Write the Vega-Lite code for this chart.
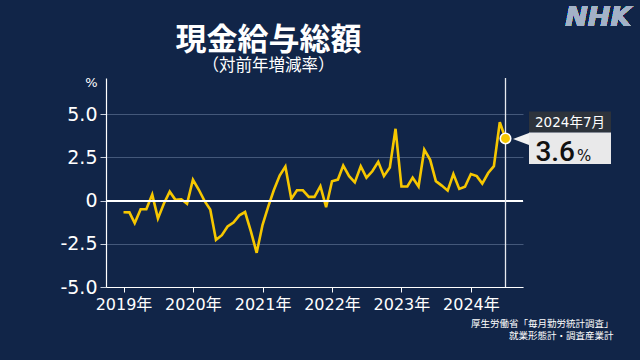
{
  "$schema": "https://vega.github.io/schema/vega-lite/v6.json",
  "width": 417,
  "height": 209,
  "autosize": "none",
  "padding": {"left": 106, "top": 78, "right": 117, "bottom": 73},
  "background": "#112548",
  "config": {
    "view": {"stroke": null},
    "font": "Noto Sans CJK JP"
  },
  "title": {
    "text": "現金給与総額",
    "subtitle": "（対前年増減率）",
    "anchor": "middle",
    "dx": -46,
    "offset": -72,
    "font": "Noto Sans CJK JP",
    "fontSize": 31,
    "fontWeight": "bold",
    "color": "white",
    "subtitleFont": "Noto Sans CJK JP",
    "subtitleFontSize": 16.5,
    "subtitleColor": "white",
    "subtitlePadding": 1
  },
  "data": {
    "values": [
      {"date": "2019-01-01", "value": -0.67},
      {"date": "2019-02-01", "value": -0.68},
      {"date": "2019-03-01", "value": -1.3},
      {"date": "2019-04-01", "value": -0.5},
      {"date": "2019-05-01", "value": -0.5},
      {"date": "2019-06-01", "value": 0.35},
      {"date": "2019-07-01", "value": -1.03},
      {"date": "2019-08-01", "value": -0.18},
      {"date": "2019-09-01", "value": 0.52},
      {"date": "2019-10-01", "value": 0.05},
      {"date": "2019-11-01", "value": 0.08},
      {"date": "2019-12-01", "value": -0.18},
      {"date": "2020-01-01", "value": 1.21},
      {"date": "2020-02-01", "value": 0.63},
      {"date": "2020-03-01", "value": 0.0},
      {"date": "2020-04-01", "value": -0.52},
      {"date": "2020-05-01", "value": -2.27},
      {"date": "2020-06-01", "value": -2.0},
      {"date": "2020-07-01", "value": -1.5},
      {"date": "2020-08-01", "value": -1.27},
      {"date": "2020-09-01", "value": -0.85},
      {"date": "2020-10-01", "value": -0.66},
      {"date": "2020-11-01", "value": -1.8},
      {"date": "2020-12-01", "value": -3.02},
      {"date": "2021-01-01", "value": -1.4},
      {"date": "2021-02-01", "value": -0.3},
      {"date": "2021-03-01", "value": 0.6},
      {"date": "2021-04-01", "value": 1.45},
      {"date": "2021-05-01", "value": 1.97},
      {"date": "2021-06-01", "value": 0.1},
      {"date": "2021-07-01", "value": 0.6},
      {"date": "2021-08-01", "value": 0.6},
      {"date": "2021-09-01", "value": 0.22},
      {"date": "2021-10-01", "value": 0.22},
      {"date": "2021-11-01", "value": 0.84},
      {"date": "2021-12-01", "value": -0.38},
      {"date": "2022-01-01", "value": 1.12},
      {"date": "2022-02-01", "value": 1.22},
      {"date": "2022-03-01", "value": 2.03},
      {"date": "2022-04-01", "value": 1.42},
      {"date": "2022-05-01", "value": 1.06},
      {"date": "2022-06-01", "value": 1.99},
      {"date": "2022-07-01", "value": 1.33},
      {"date": "2022-08-01", "value": 1.7},
      {"date": "2022-09-01", "value": 2.25},
      {"date": "2022-10-01", "value": 1.42},
      {"date": "2022-11-01", "value": 1.92},
      {"date": "2022-12-01", "value": 4.16},
      {"date": "2023-01-01", "value": 0.82},
      {"date": "2023-02-01", "value": 0.82},
      {"date": "2023-03-01", "value": 1.33},
      {"date": "2023-04-01", "value": 0.82},
      {"date": "2023-05-01", "value": 2.95},
      {"date": "2023-06-01", "value": 2.36},
      {"date": "2023-07-01", "value": 1.13},
      {"date": "2023-08-01", "value": 0.87},
      {"date": "2023-09-01", "value": 0.58},
      {"date": "2023-10-01", "value": 1.54},
      {"date": "2023-11-01", "value": 0.68},
      {"date": "2023-12-01", "value": 0.8},
      {"date": "2024-01-01", "value": 1.54},
      {"date": "2024-02-01", "value": 1.42},
      {"date": "2024-03-01", "value": 0.99},
      {"date": "2024-04-01", "value": 1.6},
      {"date": "2024-05-01", "value": 2.0},
      {"date": "2024-06-01", "value": 4.54},
      {"date": "2024-07-01", "value": 3.6}
    ]
  },
  "layer": [
    {
      "mark": {"type": "line", "color": "#f6c700", "strokeWidth": 2.6, "strokeJoin": "miter"},
      "encoding": {
        "x": {
          "field": "date",
          "type": "temporal",
          "scale": {"domain": [{"year": 2018, "month": 10, "date": 1}, {"year": 2024, "month": 10, "date": 1}]},
          "axis": {
            "format": "%Y年",
            "tickCount": {"interval": "year", "step": 1},
            "grid": false,
            "labelFont": "DejaVu Sans, Noto Sans CJK JP",
            "labelFontSize": 16,
            "labelColor": "white",
            "labelPadding": 4,
            "domainColor": "white",
            "domainWidth": 1.2,
            "tickColor": "white",
            "tickSize": 5,
            "title": ["厚生労働省「毎月勤労統計調査」", "就業形態計・調査産業計"],
            "titleFont": "Noto Sans CJK JP",
            "titleFontSize": 9.5,
            "titleFontWeight": "normal",
            "titleColor": "white",
            "titleAnchor": "end",
            "titleAlign": "right",
            "titleBaseline": "top",
            "titleLineHeight": 12,
            "titleX": 507,
            "titleY": 31
          }
        },
        "y": {
          "field": "value",
          "type": "quantitative",
          "scale": {"domain": [-5, 7.1], "nice": false, "zero": false},
          "axis": {
            "values": [-5, -2.5, 0, 2.5, 5],
            "labelExpr": "datum.value === 0 ? '0' : (datum.value < 0 ? '-' : '') + format(abs(datum.value), '.1f')",
            "labelFont": "DejaVu Sans",
            "labelFontSize": 19,
            "labelColor": "white",
            "labelPadding": 3,
            "domainColor": "white",
            "domainWidth": 1.2,
            "tickColor": "#c8cfdc",
            "tickSize": 6,
            "grid": true,
            "gridColor": "#44587a",
            "gridWidth": 1,
            "title": "%",
            "titleAngle": 0,
            "titleX": -15,
            "titleY": 4,
            "titleAlign": "center",
            "titleBaseline": "middle",
            "titleFont": "DejaVu Sans",
            "titleFontSize": 13,
            "titleFontWeight": "normal",
            "titleColor": "white"
          }
        }
      }
    },
    {
      "mark": {"type": "rule", "color": "white", "strokeWidth": 1.5},
      "encoding": {"y": {"datum": 0}}
    },
    {
      "mark": {"type": "text", "font": "DejaVu Sans", "fontSize": 27, "fontWeight": "bold", "fontStyle": "italic", "color": "#a3b2c7", "align": "center", "baseline": "middle"},
      "encoding": {
        "x": {"datum": {"year": 2025, "month": 11, "date": 1}, "type": "temporal"},
        "y": {"datum": 10.6},
        "text": {"value": "NHK"}
      }
    },
    {
      "transform": [{"filter": {"field": "date", "timeUnit": "yearmonth", "equal": {"year": 2024, "month": 7}}}],
      "layer": [
        {
          "mark": {"type": "rule", "color": "#e6e9ee", "strokeWidth": 1.3},
          "encoding": {"x": {"field": "date", "type": "temporal"}}
        },
        {
          "mark": {"type": "point", "filled": true, "fill": "#f6c700", "stroke": "white", "strokeWidth": 1.6, "size": 110, "opacity": 1},
          "encoding": {
            "x": {"field": "date", "type": "temporal"},
            "y": {"field": "value", "type": "quantitative"}
          }
        },
        {
          "mark": {"type": "point", "shape": "M-1,0L1,-0.75L1,0.75Z", "filled": true, "fill": "#f2f2f2", "strokeWidth": 0, "size": 256, "xOffset": 15.5, "yOffset": 0.5, "opacity": 1},
          "encoding": {
            "x": {"field": "date", "type": "temporal"},
            "y": {"field": "value", "type": "quantitative"}
          }
        },
        {
          "mark": {"type": "rect", "fill": "#2d333c", "xOffset": 23.5, "x2Offset": 105.5, "yOffset": -27, "y2Offset": -6},
          "encoding": {
            "x": {"field": "date", "type": "temporal"},
            "x2": {"field": "date"},
            "y": {"field": "value", "type": "quantitative"},
            "y2": {"field": "value"}
          }
        },
        {
          "mark": {"type": "rect", "fill": "#e9e9ea", "xOffset": 23.5, "x2Offset": 105.5, "yOffset": -6, "y2Offset": 25.5},
          "encoding": {
            "x": {"field": "date", "type": "temporal"},
            "x2": {"field": "date"},
            "y": {"field": "value", "type": "quantitative"},
            "y2": {"field": "value"}
          }
        },
        {
          "mark": {"type": "text", "font": "DejaVu Sans, Noto Sans CJK JP", "fontSize": 13.5, "color": "white", "align": "center", "baseline": "middle", "dx": 64.5, "dy": -15.5},
          "encoding": {
            "x": {"field": "date", "type": "temporal"},
            "y": {"field": "value", "type": "quantitative"},
            "text": {"field": "date", "type": "temporal", "format": "%Y年%-m月"}
          }
        },
        {
          "mark": {"type": "text", "font": "Roboto", "fontSize": 28, "fontWeight": 500, "color": "#111111", "align": "right", "baseline": "alphabetic", "dx": 69.5, "dy": 22.4},
          "encoding": {
            "x": {"field": "date", "type": "temporal"},
            "y": {"field": "value", "type": "quantitative"},
            "text": {"field": "value", "type": "quantitative", "format": ".1f"}
          }
        },
        {
          "mark": {"type": "text", "font": "DejaVu Sans", "fontSize": 15, "color": "#111111", "align": "left", "baseline": "alphabetic", "dx": 71.5, "dy": 22.4},
          "encoding": {
            "x": {"field": "date", "type": "temporal"},
            "y": {"field": "value", "type": "quantitative"},
            "text": {"value": "%"}
          }
        }
      ]
    }
  ]
}
